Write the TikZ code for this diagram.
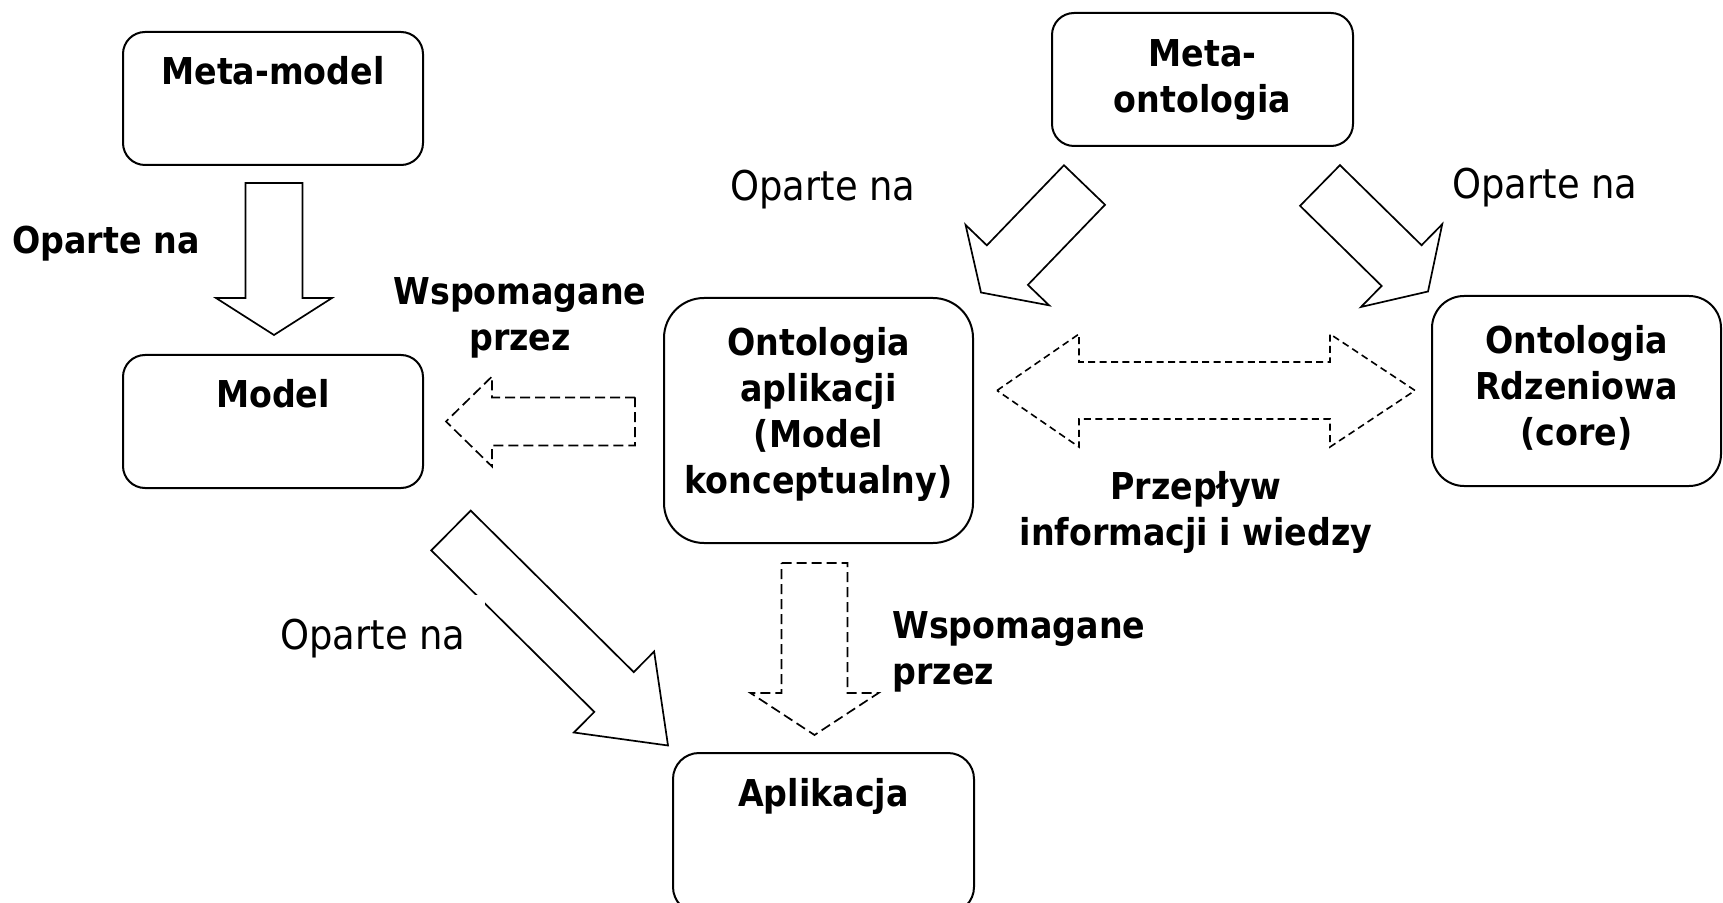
\documentclass[tikz,border=0pt]{standalone}
\usepackage{fontspec}
\setmainfont{DejaVu Sans Condensed}
\usetikzlibrary{calc}
\newcommand\blockarr[6]{%
  \path ($(#3)!#6!(#2)$) coordinate (baB);
  \draw[#1] ($(#2)!#4!90:(#3)$) -- ($(baB)!#4!90:(#3)$) -- ($(baB)!#5!90:(#3)$) -- (#3)
    -- ($(baB)!#5!-90:(#3)$) -- ($(baB)!#4!-90:(#3)$) -- ($(#2)!#4!-90:(#3)$) -- cycle;}
\begin{document}
\begin{tikzpicture}[x=0.5pt,y=-0.5pt,
  box/.style={draw, line width=1pt, rounded corners=#1, inner sep=0pt},
  btext/.style={font=\bfseries\fontsize{18.5}{23}\selectfont, align=center, inner sep=0pt},
  rtext/.style={font=\fontsize{20.5}{25}\selectfont, inner sep=0pt},
  sarrow/.style={draw, line width=0.85pt, line join=miter, fill=white},
  darrow/.style={draw, line width=0.85pt, dash pattern=on 5pt off 2.5pt},
  dfine/.style={draw, line width=0.8pt, dash pattern=on 3.5pt off 2.2pt}]
\useasboundingbox (0,0) rectangle (1723,903);
% boxes
\node[box=11pt, minimum width=150pt, minimum height=66.5pt] (metamodel) at (273,98.5) {};
\node[box=11pt, minimum width=150pt, minimum height=66.5pt] (model) at (273,421.5) {};
\node[box=20pt, minimum width=154.5pt, minimum height=122.5pt] (ontapp) at (818.5,420.5) {};
\node[box=11pt, minimum width=150.5pt, minimum height=66.5pt] (metaont) at (1202.5,79.5) {};
\node[box=16pt, minimum width=144.5pt, minimum height=95pt] (core) at (1576.5,391) {};
\node[box=13pt, minimum width=150.5pt, minimum height=80pt] (aplik) at (823.5,833) {};
% box texts (base = baseline of the last line)
\node[btext, anchor=base] (tmm) at (273,84.5) {Meta-model};
\node[btext, anchor=base] (tm) at (273,407.5) {Model};
\node[btext, anchor=base] (toa) at (818.5,493.5) {Ontologia\\aplikacji\\(Model\\konceptualny)};
\node[btext, anchor=base] (tmo) at (1202.5,113) {Meta-\\ontologia};
\node[btext, anchor=base] (tc) at (1576.5,445.5) {Ontologia\\Rdzeniowa\\(core)};
\node[btext, anchor=base] (ta) at (823.5,806.5) {Aplikacja};
% block arrows
\draw[sarrow] (245.5,183) -- (302.5,183) -- (302.5,298) -- (332,298) -- (274,335) -- (216,298) -- (245.5,298) -- cycle;
\coordinate (a5s) at (1084.5,185); \coordinate (a5e) at (981,292.5);
\blockarr{sarrow}{a5s}{a5e}{14.25pt}{29pt}{19pt}
\coordinate (a6s) at (1320,185.5); \coordinate (a6e) at (1428,291.5);
\blockarr{sarrow}{a6s}{a6e}{14.25pt}{29pt}{18.5pt}
\coordinate (a7s) at (451,530.5); \coordinate (a7e) at (668,745.5);
\blockarr{sarrow}{a7s}{a7e}{14pt}{28.5pt}{38pt}
% dashed arrows
\draw[darrow] (635,397.5) -- (492,397.5) -- (492,376.5) -- (446,421.5) -- (492,466.5) -- (492,445.5) -- (635,445.5) -- cycle;
\draw[darrow] (781.5,563) -- (847.5,563) -- (847.5,693) -- (878.5,693) -- (814.5,735) -- (750.5,693) -- (781.5,693) -- cycle;
\draw[dfine] (997,390.5) -- (1079,334) -- (1079,362) -- (1330,362) -- (1330,334) -- (1415,390.5) -- (1330,447) -- (1330,419) -- (1079,419) -- (1079,447) -- cycle;
% labels
\node[btext, anchor=base] (l1) at (106,253.5) {Oparte na};
\node[btext, anchor=base] (l2) at (520,351) {Wspomagane\\przez};
\node[btext, anchor=base] (l3) at (1196,545.5) {Przepływ\\informacji i wiedzy};
\node[btext, anchor=base west, align=left] (l4) at (892,684.5) {Wspomagane\\przez};
\node[rtext, anchor=base] (l5) at (823,201) {Oparte na};
\node[rtext, anchor=base] (l6) at (1545,199) {Oparte na};
\node[rtext, fill=white, minimum width=112pt, minimum height=44pt] (l7) at (373,639) {Oparte na};
\end{tikzpicture}
\end{document}
